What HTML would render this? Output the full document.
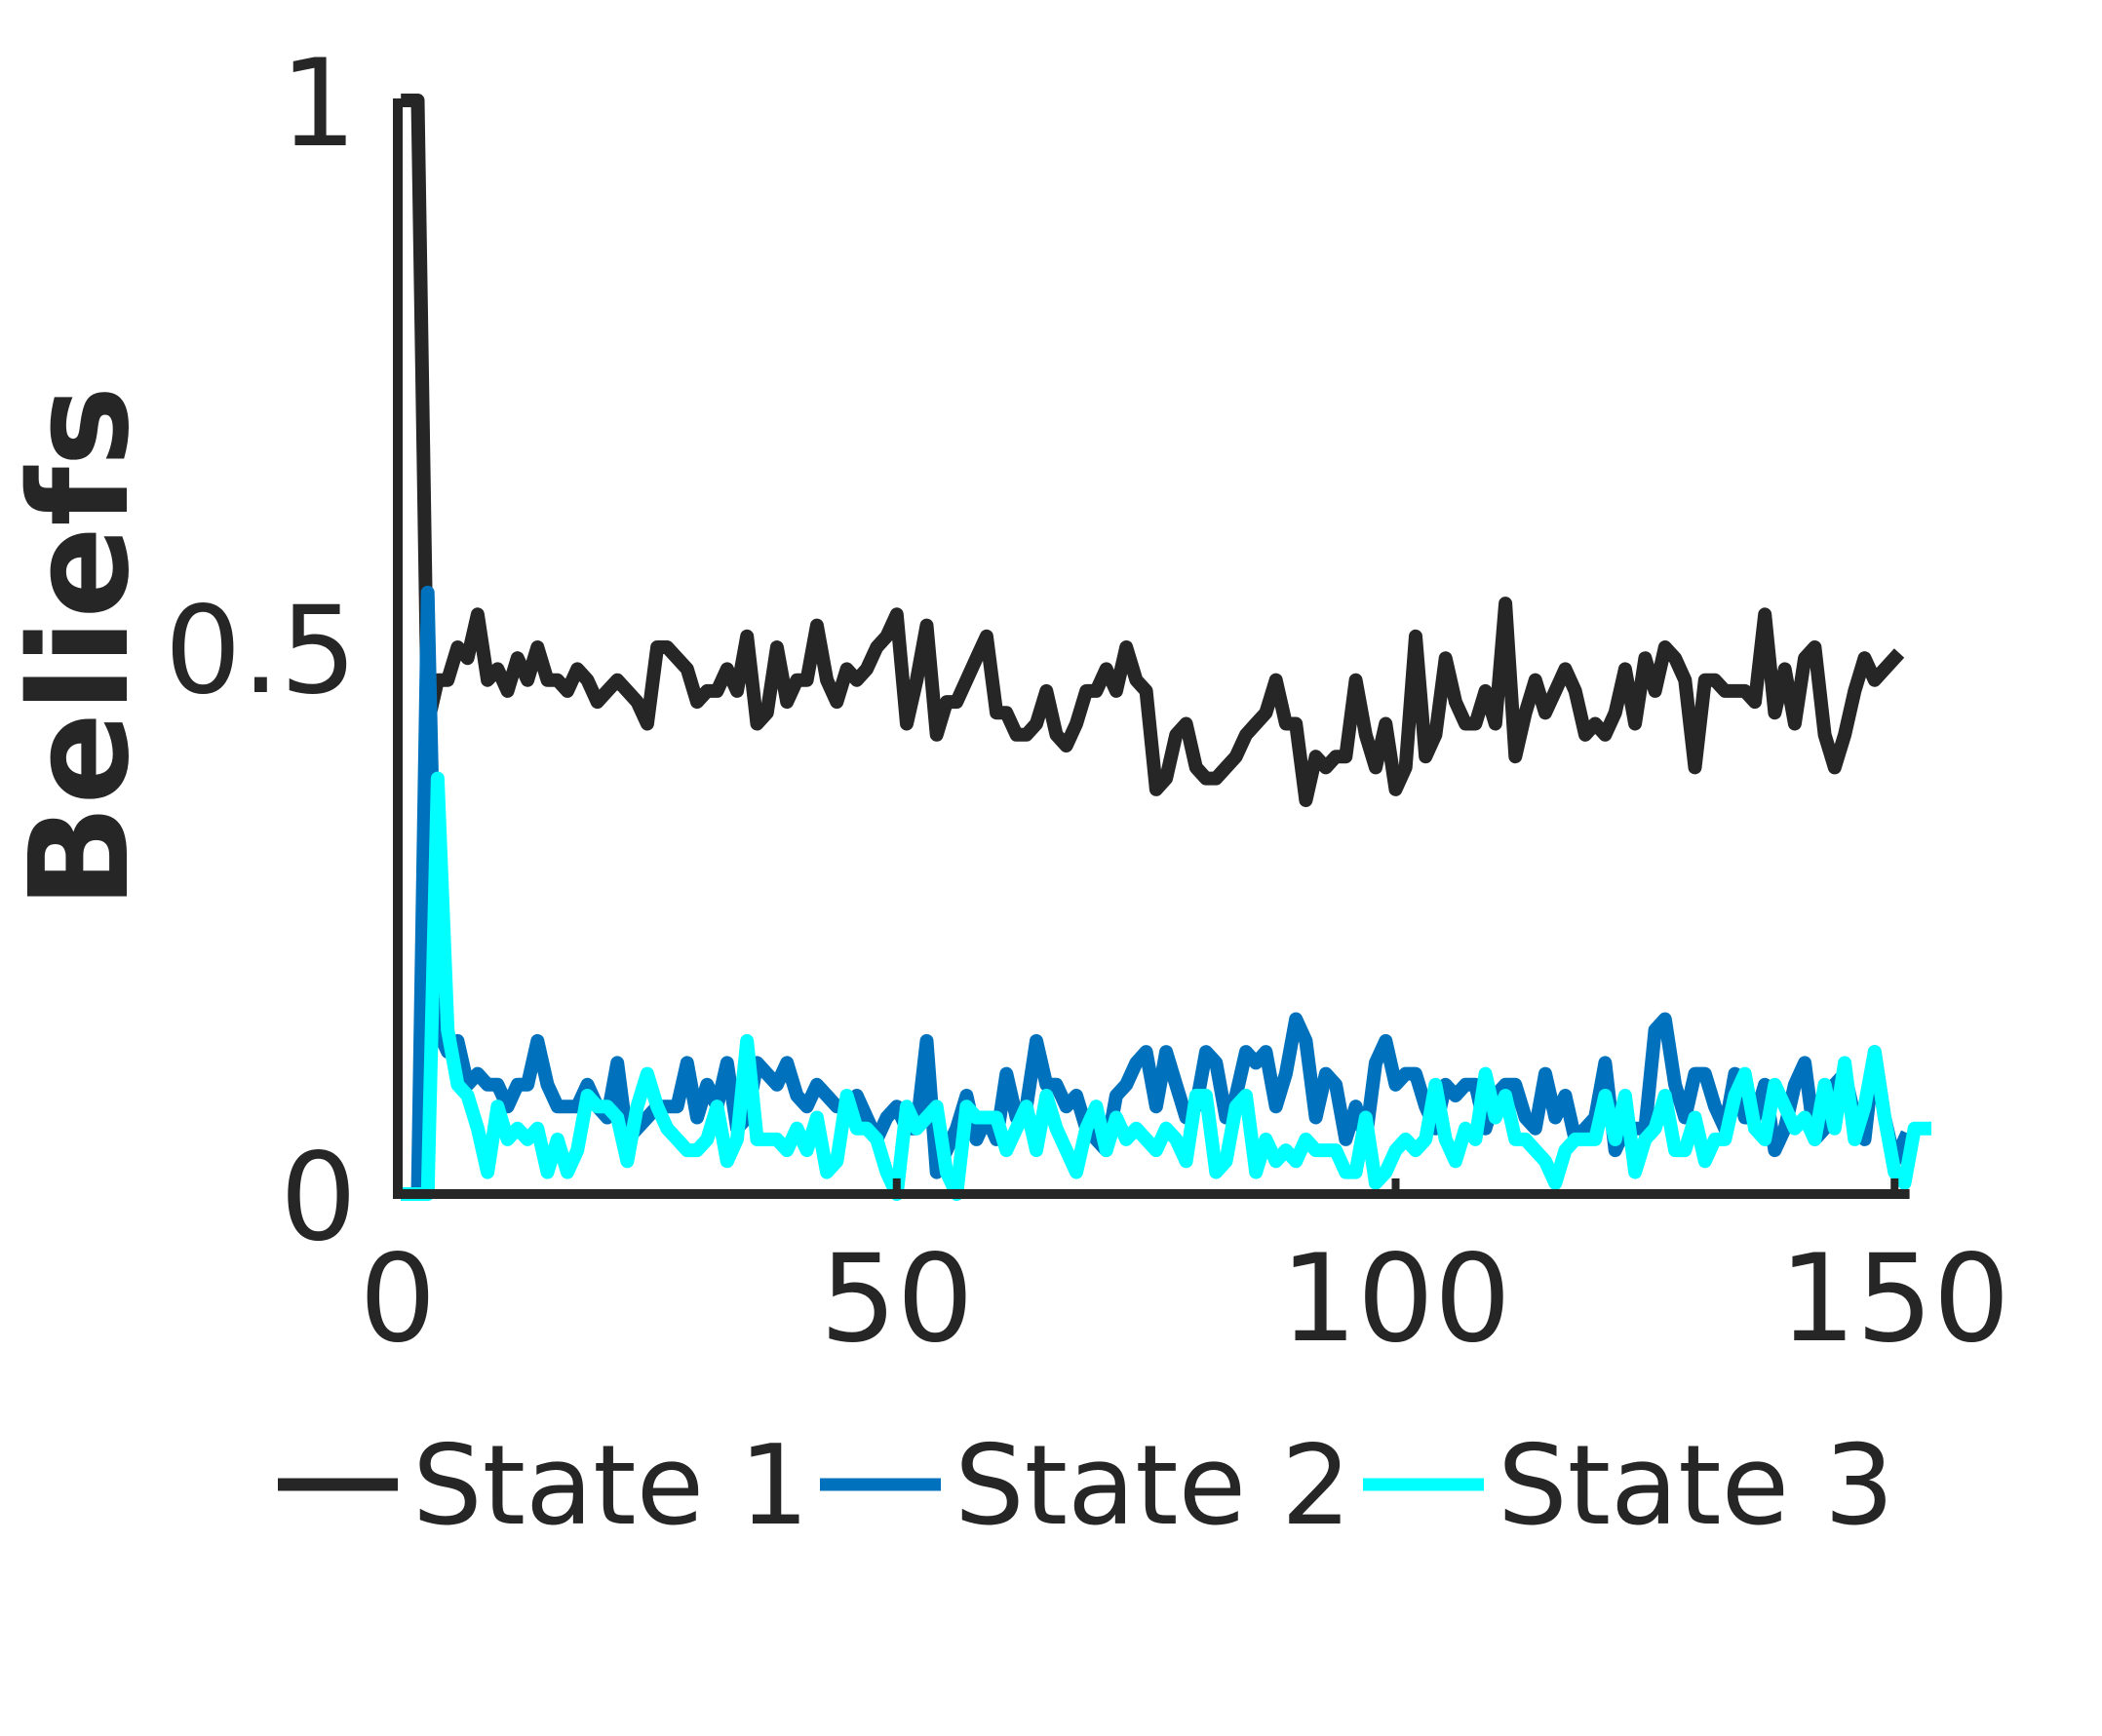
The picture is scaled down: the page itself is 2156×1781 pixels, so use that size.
<!DOCTYPE html>
<html><head><meta charset="utf-8"><style>
html,body{margin:0;padding:0;background:#fff;}
svg{display:block;}
text{font-family:"DejaVu Sans","Liberation Sans",sans-serif;fill:#262626;}
</style></head><body>
<svg id="chart" width="2156" height="1781" viewBox="0 0 2156 1781" xmlns="http://www.w3.org/2000/svg">
<rect width="2156" height="1781" fill="#fff"/>
<g id="plot"></g>
<g id="axes"></g>
<text x="0" y="0" transform="translate(130,664) rotate(-90)" text-anchor="middle" font-weight="bold" font-size="140">Beliefs</text>
<g>
  <g><line x1="285" y1="1523" x2="408" y2="1523" stroke="#262626" stroke-width="13"/><text x="423" y="1563" font-size="113" fill="#000">State 1</text></g>
  <g><line x1="841" y1="1523" x2="965" y2="1523" stroke="#0072BD" stroke-width="13"/><text x="979" y="1563" font-size="113" fill="#000">State 2</text></g>
  <g><line x1="1398" y1="1523" x2="1522" y2="1523" stroke="#00FFFF" stroke-width="13"/><text x="1536" y="1563" font-size="113" fill="#000">State 3</text></g>
</g>
</svg>
<script>
const state1 = [1.0,1.0,0.43,0.47,0.47,0.5,0.49,0.53,0.47,0.48,0.46,0.49,0.47,0.5,0.47,0.47,0.46,0.48,0.47,0.45,0.46,0.47,0.46,0.45,0.43,0.5,0.5,0.49,0.48,0.45,0.46,0.46,0.48,0.46,0.51,0.43,0.44,0.5,0.45,0.47,0.47,0.52,0.47,0.45,0.48,0.47,0.48,0.5,0.51,0.53,0.43,0.47,0.52,0.42,0.45,0.45,0.47,0.49,0.51,0.44,0.44,0.42,0.42,0.43,0.46,0.42,0.41,0.43,0.46,0.46,0.48,0.46,0.5,0.47,0.46,0.37,0.38,0.42,0.43,0.39,0.38,0.38,0.39,0.4,0.42,0.43,0.44,0.47,0.43,0.43,0.36,0.4,0.39,0.4,0.4,0.47,0.42,0.39,0.43,0.37,0.39,0.51,0.4,0.42,0.49,0.45,0.43,0.43,0.46,0.43,0.54,0.4,0.44,0.47,0.44,0.46,0.48,0.46,0.42,0.43,0.42,0.44,0.48,0.43,0.49,0.46,0.5,0.49,0.47,0.39,0.47,0.47,0.46,0.46,0.46,0.45,0.53,0.44,0.48,0.43,0.49,0.5,0.42,0.39,0.42,0.46,0.49,0.47,0.48,0.49];
const state2 = [0,0,0.55,0.15,0.13,0.14,0.1,0.11,0.1,0.1,0.08,0.1,0.1,0.14,0.1,0.08,0.08,0.08,0.1,0.08,0.07,0.12,0.05,0.06,0.07,0.08,0.08,0.08,0.12,0.07,0.1,0.08,0.12,0.06,0.07,0.12,0.11,0.1,0.12,0.09,0.08,0.1,0.09,0.08,0.08,0.09,0.07,0.05,0.07,0.08,0.06,0.06,0.14,0.02,0.04,0.06,0.09,0.05,0.07,0.05,0.11,0.07,0.08,0.14,0.1,0.1,0.08,0.09,0.06,0.05,0.04,0.09,0.1,0.12,0.13,0.08,0.13,0.1,0.07,0.08,0.13,0.12,0.07,0.09,0.13,0.12,0.13,0.08,0.11,0.16,0.14,0.07,0.11,0.1,0.05,0.08,0.05,0.12,0.14,0.1,0.11,0.11,0.08,0.06,0.1,0.09,0.1,0.1,0.06,0.09,0.1,0.1,0.07,0.06,0.11,0.07,0.09,0.05,0.06,0.07,0.12,0.04,0.06,0.06,0.06,0.15,0.16,0.1,0.07,0.11,0.11,0.08,0.06,0.11,0.07,0.07,0.1,0.04,0.06,0.1,0.12,0.05,0.06,0.1,0.11,0.07,0.05,0.13,0.07,0.03,0.05];
const state3 = [0,0,0,0.38,0.15,0.1,0.09,0.06,0.02,0.08,0.05,0.06,0.05,0.06,0.02,0.05,0.02,0.04,0.09,0.08,0.08,0.07,0.03,0.08,0.11,0.08,0.06,0.05,0.04,0.04,0.05,0.08,0.03,0.05,0.14,0.05,0.05,0.05,0.04,0.06,0.04,0.07,0.02,0.03,0.09,0.06,0.06,0.05,0.02,0.0,0.08,0.06,0.07,0.08,0.02,0.0,0.08,0.07,0.07,0.07,0.04,0.06,0.08,0.04,0.09,0.06,0.04,0.02,0.06,0.08,0.04,0.07,0.05,0.06,0.05,0.04,0.06,0.05,0.03,0.09,0.09,0.02,0.03,0.08,0.09,0.02,0.05,0.03,0.04,0.03,0.05,0.04,0.04,0.04,0.02,0.02,0.07,0.01,0.02,0.04,0.05,0.04,0.05,0.1,0.05,0.03,0.06,0.05,0.11,0.07,0.09,0.05,0.05,0.04,0.03,0.01,0.04,0.05,0.05,0.05,0.09,0.05,0.09,0.02,0.05,0.06,0.09,0.04,0.04,0.07,0.03,0.05,0.05,0.09,0.11,0.06,0.05,0.1,0.08,0.06,0.07,0.05,0.1,0.06,0.12,0.05,0.08,0.13,0.07,0.02,0.01,0.06,0.06];
const xTicks = [0,50,100,150];
const xTickLabels = ["0","50","100","150"];
const yTicks = [0,0.5,1];
const yTickLabels = ["0","0.5","1"];

const NS = "http://www.w3.org/2000/svg";
const X0 = 408, XS = 10.235, Y0 = 1225, YS = 1122;
function xs(v){ return X0 + v*XS; }
function ys(v){ return Y0 - v*YS; }
function mk(tag, attrs){ const e=document.createElementNS(NS,tag); for(const k in attrs) e.setAttribute(k,attrs[k]); return e; }

const plot = document.getElementById('plot');
function drawSeries(arr, color, name){
  const pts = arr.map((v,i)=> xs(i+1).toFixed(1)+','+ys(v).toFixed(1)).join(' ');
  const pl = mk('polyline',{points:pts,fill:'none',stroke:color,'stroke-width':14,'stroke-linejoin':'round','stroke-linecap':'square'});
  
  
  plot.appendChild(pl);
}
drawSeries(state1,'#262626','line-state-1');
drawSeries(state2,'#0072BD','line-state-2');
drawSeries(state3,'#00FFFF','line-state-3');

const axes = document.getElementById('axes');
const yAxis = mk('line',{x1:X0,y1:ys(1)-2,x2:X0,y2:Y0+5,stroke:'#262626','stroke-width':10});


axes.appendChild(yAxis);
const xAxis = mk('line',{x1:X0-5,y1:Y0,x2:xs(151.5),y2:Y0,stroke:'#262626','stroke-width':10});


axes.appendChild(xAxis);
xTicks.forEach((t,i)=>{
  const tk = mk('line',{x1:xs(t),y1:Y0,x2:xs(t),y2:Y0-16,stroke:'#262626','stroke-width':8});
  
  
  axes.appendChild(tk);
  const lb = mk('text',{x:xs(t),y:1375,'text-anchor':'middle','font-size':124});
  lb.textContent = xTickLabels[i];
  
  
  axes.appendChild(lb);
});
yTicks.forEach((t,i)=>{
  const lb = mk('text',{x:366,y:ys(t)+46,'text-anchor':'end','font-size':124});
  lb.textContent = yTickLabels[i];
  
  
  axes.appendChild(lb);
});
</script>
</body></html>
